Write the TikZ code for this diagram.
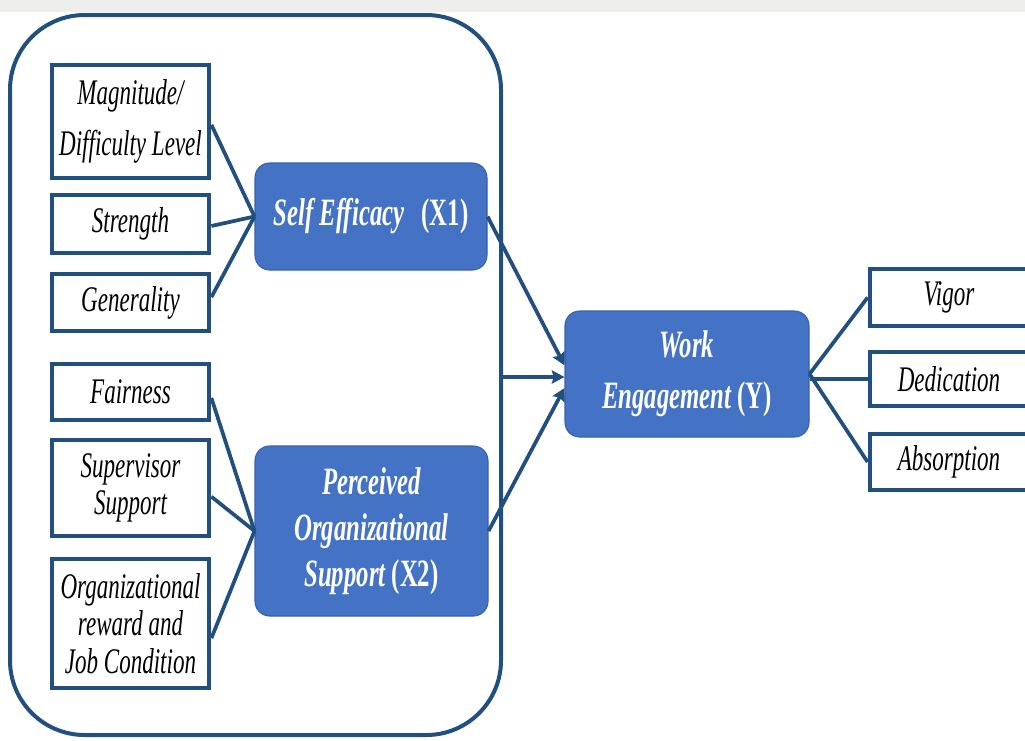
\documentclass[tikz,border=0pt]{standalone}
\usepackage{fontspec}
\newfontfamily\tnr[FakeStretch=0.64]{Liberation Serif}
\usetikzlibrary{arrows.meta,calc}
\definecolor{navy}{RGB}{33,79,128}
\definecolor{boxblue}{RGB}{68,114,196}
\definecolor{boxedge}{RGB}{55,97,172}
\definecolor{band}{RGB}{238,238,236}

\begin{document}
\begin{tikzpicture}[x=0.75pt,y=-0.75pt,
  dim/.style={draw=navy, line width=3.6pt, fill=white, inner sep=0pt,
    minimum width=117.75pt, align=center,
    font=\tnr\itshape\fontsize{27}{28}\selectfont},
  construct/.style={draw=boxedge, line width=0.8pt, fill=boxblue,
    rounded corners=11pt, text=white, inner sep=0pt, align=center,
    font=\tnr\bfseries\fontsize{29}{34.5}\selectfont},
  link/.style={draw=navy, line width=2.8pt},
  arr/.style={link, -{Stealth[length=9.5pt,width=10pt,inset=1.5pt]}}]

  \useasboundingbox (0,0) rectangle (1025,740);
  \clip (0,0) rectangle (1025,740);
  \fill[band] (0,0) rectangle (1025,12);

  % outer frame grouping the two predictors
  \node[draw=navy, line width=3pt, rounded corners=56pt, minimum width=368.25pt,
        minimum height=540pt, inner sep=0pt] (grp) at (255.5,375) {};

  % indicators of self efficacy
  \node[dim, minimum height=84.75pt,
        font=\tnr\itshape\fontsize{27}{38}\selectfont] (mag) at (130.5,121.5)
        {Magnitude/\\Difficulty Level};
  \node[dim, minimum height=43.5pt] (str) at (130.5,224) {Strength};
  \node[dim, minimum height=42.75pt] (gen) at (130.5,302.5) {Generality};

  % indicators of perceived organizational support
  \node[dim, minimum height=42pt] (fair) at (130.5,392) {Fairness};
  \node[dim, minimum height=72pt] (sup) at (130.5,488) {Supervisor\\Support};
  \node[dim, minimum height=96.75pt] (org) at (130.5,623.5)
        {Organizational\\reward and\\Job Condition};

  % latent constructs
  \node[construct, minimum width=174pt, minimum height=80.25pt] (se) at (371,216.5)
        {{\itshape Self Efficacy}\hspace{0.45em}(X1)};
  \node[construct, minimum width=174.75pt, minimum height=127.5pt] (pos) at (371.5,531)
        {{\itshape Perceived}\\{\itshape Organizational}\\{\itshape Support} (X2)};
  \node[construct, minimum width=183pt, minimum height=94.5pt,
        font=\tnr\bfseries\fontsize{29}{38}\selectfont] (we) at (687,374)
        {{\itshape Work}\\{\itshape Engagement} (Y)};

  % indicators of work engagement
  \node[dim, minimum width=118.5pt, minimum height=42.75pt] (vig) at (949,297.5) {Vigor};
  \node[dim, minimum width=118.5pt, minimum height=40.5pt] (ded) at (949,379) {Dedication};
  \node[dim, minimum width=118.5pt, minimum height=42pt] (abs) at (949,462) {Absorption};

  % indicator links
  \draw[link] ([yshift=-2.5pt]mag.east) -- (se.west);
  \draw[link] ([yshift=-1.5pt]str.east) -- (se.west);
  \draw[link] ([yshift=4pt]gen.east) -- (se.west);
  \draw[link] ([yshift=-4.5pt]fair.east) -- (pos.west);
  \draw[link] ([yshift=-6.5pt]sup.east) -- (pos.west);
  \draw[link] ([yshift=-11pt]org.east) -- (pos.west);

  % structural paths into work engagement
  \coordinate (tipA) at ([yshift=6.5pt]we.west);
  \coordinate (tipB) at ([yshift=-2.25pt]we.west);
  \coordinate (tipC) at ([yshift=-10.5pt]we.west);
  \draw[arr] (se.east) -- (tipA);
  \draw[arr] (grp.east |- tipB) -- (tipB);
  \draw[arr] (pos.east) -- (tipC);

  % work engagement indicators
  \draw[link] (we.east) -- (vig.west);
  \draw[link] (ded.west -| we.east) -- (ded.west);
  \draw[link] (we.east) -- (abs.west);
\end{tikzpicture}
\end{document}
